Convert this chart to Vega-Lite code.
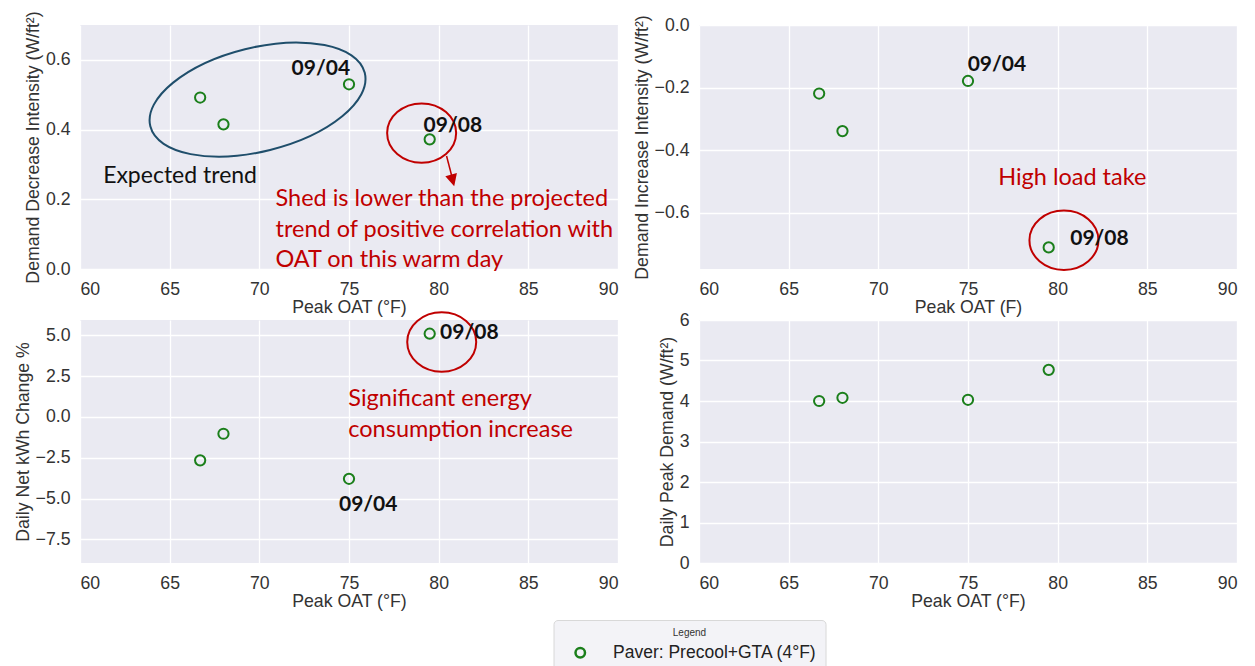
{
  "$schema": "https://vega.github.io/schema/vega-lite/v6.json",
  "padding": {"left": 14, "top": 10, "right": 5, "bottom": 5},
  "bounds": "flush",
  "columns": 2,
  "spacing": {"row": 51, "column": 81},
  "datasets": {
    "pts": [
      {"oat": 66.7, "dec": 0.492, "inc": -0.219, "net": -2.66, "peak": 4.0, "series": "Paver: Precool+GTA (4°F)"},
      {"oat": 68.0, "dec": 0.415, "inc": -0.339, "net": -1.03, "peak": 4.08, "series": "Paver: Precool+GTA (4°F)"},
      {"oat": 75.0, "dec": 0.530, "inc": -0.179, "net": -3.79, "peak": 4.03, "series": "Paver: Precool+GTA (4°F)"},
      {"oat": 79.5, "dec": 0.372, "inc": -0.711, "net": 5.1, "peak": 4.77, "series": "Paver: Precool+GTA (4°F)"}
    ],
    "dates": [
      {"panel": "dec", "x": 71.8, "y": 0.575, "label": "09/04"},
      {"panel": "dec", "x": 79.16, "y": 0.411, "label": "09/08"},
      {"panel": "inc", "x": 74.98, "y": -0.127, "label": "09/04"},
      {"panel": "inc", "x": 80.7, "y": -0.685, "label": "09/08"},
      {"panel": "net", "x": 80.08, "y": 5.14, "label": "09/08"},
      {"panel": "net", "x": 74.44, "y": -5.38, "label": "09/04"}
    ],
    "red": [
      {"panel": "dec", "x": 70.9, "y": 0.200, "label": "Shed is lower than the projected"},
      {"panel": "dec", "x": 70.9, "y": 0.113, "label": "trend of positive correlation with"},
      {"panel": "dec", "x": 70.9, "y": 0.027, "label": "OAT on this warm day"},
      {"panel": "inc", "x": 76.68, "y": -0.490, "label": "High load take"},
      {"panel": "net", "x": 74.96, "y": 1.12, "label": "Significant energy"},
      {"panel": "net", "x": 74.96, "y": -0.77, "label": "consumption increase"}
    ],
    "rings": [
      {"panel": "dec", "x": 79.05, "y": 0.390},
      {"panel": "inc", "x": 80.35, "y": -0.688},
      {"panel": "net", "x": 80.17, "y": 4.59}
    ],
    "ellipse": [{"x": 69.9, "y": 0.486}],
    "arrow": [{"x": 80.44, "y": 0.324, "x2": 80.72, "y2": 0.269}],
    "arrowhead": [{"x": 80.78, "y": 0.254}],
    "expected": [{"x": 61.29, "y": 0.268, "label": "Expected trend"}]
  },
  "concat": [
    {
      "width": 538,
      "height": 244,
      "layer": [
        {
          "data": {"name": "pts"},
          "mark": {"type": "point", "filled": false, "size": 105, "strokeWidth": 2, "opacity": 1},
          "encoding": {
            "x": {"field": "oat", "type": "quantitative", "scale": {"domain": [60, 90], "nice": false, "zero": false}, "axis": {"values": [60, 65, 70, 75, 80, 85, 90], "format": "d", "title": "Peak OAT (°F)"}},
            "y": {"field": "dec", "type": "quantitative", "scale": {"domain": [0, 0.7], "nice": false, "zero": false}, "axis": {"values": [0, 0.2, 0.4, 0.6], "format": ".1f", "title": "Demand Decrease Intensity (W/ft²)"}},
            "color": {"field": "series", "type": "nominal", "scale": {"range": ["#1b7f1b"]},
              "legend": {"orient": "none", "legendX": 473.5, "legendY": 595, "title": "Legend", "titleFont": "Liberation Sans", "titleFontSize": 10, "titleFontWeight": "normal", "titleColor": "#333333", "titleAnchor": "middle", "titlePadding": 6, "labelFont": "Liberation Sans", "labelFontSize": 17.5, "labelColor": "#222222", "labelLimit": 0, "fillColor": "#F3F3F7", "strokeColor": "#D8D8D8", "cornerRadius": 4, "padding": 8, "symbolSize": 90, "symbolStrokeWidth": 2.5, "symbolOffset": 10, "labelOffset": 24}}
          }
        },
        {
          "data": {"name": "ellipse"},
          "mark": {"type": "point", "shape": "M -1 0 A 1 0.47 0 1 0 1 0 A 1 0.47 0 1 0 -1 0 Z", "size": 48841, "angle": 346, "filled": false, "stroke": "#1f4e6b", "strokeWidth": 2, "opacity": 1},
          "encoding": {"x": {"field": "x", "type": "quantitative"}, "y": {"field": "y", "type": "quantitative"}}
        },
        {
          "data": {"name": "rings"},
          "transform": [{"filter": "datum.panel === 'dec'"}],
          "mark": {"type": "point", "shape": "M -1 0 A 1 0.86 0 1 0 1 0 A 1 0.86 0 1 0 -1 0 Z", "size": 4761, "filled": false, "stroke": "#C00000", "strokeWidth": 2, "opacity": 1},
          "encoding": {"x": {"field": "x", "type": "quantitative"}, "y": {"field": "y", "type": "quantitative"}}
        },
        {
          "data": {"name": "arrow"},
          "mark": {"type": "rule", "color": "#C00000", "strokeWidth": 1.5},
          "encoding": {"x": {"field": "x", "type": "quantitative"}, "y": {"field": "y", "type": "quantitative"}, "x2": {"field": "x2"}, "y2": {"field": "y2"}}
        },
        {
          "data": {"name": "arrowhead"},
          "mark": {"type": "point", "shape": "M -1 -1 L 1 -1 L 0 1 Z", "size": 144, "angle": 345, "filled": true, "fill": "#C00000", "strokeWidth": 0, "opacity": 1},
          "encoding": {"x": {"field": "x", "type": "quantitative"}, "y": {"field": "y", "type": "quantitative"}}
        },
        {
          "data": {"name": "dates"},
          "transform": [{"filter": "datum.panel === 'dec'"}],
          "mark": {"type": "text", "font": "Lato", "fontWeight": "bold", "fontSize": 21, "color": "#111111", "align": "left", "baseline": "middle"},
          "encoding": {"x": {"field": "x", "type": "quantitative"}, "y": {"field": "y", "type": "quantitative"}, "text": {"field": "label"}}
        },
        {
          "data": {"name": "red"},
          "transform": [{"filter": "datum.panel === 'dec'"}],
          "mark": {"type": "text", "font": "Lato", "fontSize": 23.5, "color": "#C00000", "align": "left", "baseline": "middle"},
          "encoding": {"x": {"field": "x", "type": "quantitative"}, "y": {"field": "y", "type": "quantitative"}, "text": {"field": "label"}}
        },
        {
          "data": {"name": "expected"},
          "mark": {"type": "text", "font": "Lato", "fontSize": 23, "color": "#111111", "align": "left", "baseline": "middle"},
          "encoding": {"x": {"field": "x", "type": "quantitative"}, "y": {"field": "y", "type": "quantitative"}, "text": {"field": "label"}}
        }
      ]
    },
    {
      "width": 538,
      "height": 244,
      "layer": [
        {
          "data": {"name": "pts"},
          "mark": {"type": "point", "filled": false, "size": 105, "strokeWidth": 2, "opacity": 1},
          "encoding": {
            "x": {"field": "oat", "type": "quantitative", "scale": {"domain": [60, 90], "nice": false, "zero": false}, "axis": {"values": [60, 65, 70, 75, 80, 85, 90], "format": "d", "title": "Peak OAT (F)"}},
            "y": {"field": "inc", "type": "quantitative", "scale": {"domain": [-0.78, 0], "nice": false, "zero": false}, "axis": {"values": [0, -0.2, -0.4, -0.6], "format": ".1f", "title": "Demand Increase Intensity (W/ft²)"}},
            "color": {"field": "series", "type": "nominal"}
          }
        },
        {
          "data": {"name": "rings"},
          "transform": [{"filter": "datum.panel === 'inc'"}],
          "mark": {"type": "point", "shape": "M -1 0 A 1 0.86 0 1 0 1 0 A 1 0.86 0 1 0 -1 0 Z", "size": 4761, "filled": false, "stroke": "#C00000", "strokeWidth": 2, "opacity": 1},
          "encoding": {"x": {"field": "x", "type": "quantitative"}, "y": {"field": "y", "type": "quantitative"}}
        },
        {
          "data": {"name": "dates"},
          "transform": [{"filter": "datum.panel === 'inc'"}],
          "mark": {"type": "text", "font": "Lato", "fontWeight": "bold", "fontSize": 21, "color": "#111111", "align": "left", "baseline": "middle"},
          "encoding": {"x": {"field": "x", "type": "quantitative"}, "y": {"field": "y", "type": "quantitative"}, "text": {"field": "label"}}
        },
        {
          "data": {"name": "red"},
          "transform": [{"filter": "datum.panel === 'inc'"}],
          "mark": {"type": "text", "font": "Lato", "fontSize": 23.5, "color": "#C00000", "align": "left", "baseline": "middle"},
          "encoding": {"x": {"field": "x", "type": "quantitative"}, "y": {"field": "y", "type": "quantitative"}, "text": {"field": "label"}}
        }
      ]
    },
    {
      "width": 538,
      "height": 243,
      "layer": [
        {
          "data": {"name": "pts"},
          "mark": {"type": "point", "filled": false, "size": 105, "strokeWidth": 2, "opacity": 1},
          "encoding": {
            "x": {"field": "oat", "type": "quantitative", "scale": {"domain": [60, 90], "nice": false, "zero": false}, "axis": {"values": [60, 65, 70, 75, 80, 85, 90], "format": "d", "title": "Peak OAT (°F)"}},
            "y": {"field": "net", "type": "quantitative", "scale": {"domain": [-8.95, 5.94], "nice": false, "zero": false}, "axis": {"values": [5, 2.5, 0, -2.5, -5, -7.5], "format": ".1f", "title": "Daily Net kWh Change %"}},
            "color": {"field": "series", "type": "nominal"}
          }
        },
        {
          "data": {"name": "rings"},
          "transform": [{"filter": "datum.panel === 'net'"}],
          "mark": {"type": "point", "shape": "M -1 0 A 1 0.86 0 1 0 1 0 A 1 0.86 0 1 0 -1 0 Z", "size": 4761, "filled": false, "stroke": "#C00000", "strokeWidth": 2, "opacity": 1},
          "encoding": {"x": {"field": "x", "type": "quantitative"}, "y": {"field": "y", "type": "quantitative"}}
        },
        {
          "data": {"name": "dates"},
          "transform": [{"filter": "datum.panel === 'net'"}],
          "mark": {"type": "text", "font": "Lato", "fontWeight": "bold", "fontSize": 21, "color": "#111111", "align": "left", "baseline": "middle"},
          "encoding": {"x": {"field": "x", "type": "quantitative"}, "y": {"field": "y", "type": "quantitative"}, "text": {"field": "label"}}
        },
        {
          "data": {"name": "red"},
          "transform": [{"filter": "datum.panel === 'net'"}],
          "mark": {"type": "text", "font": "Lato", "fontSize": 23.5, "color": "#C00000", "align": "left", "baseline": "middle"},
          "encoding": {"x": {"field": "x", "type": "quantitative"}, "y": {"field": "y", "type": "quantitative"}, "text": {"field": "label"}}
        }
      ]
    },
    {
      "width": 538,
      "height": 243,
      "layer": [
        {
          "data": {"name": "pts"},
          "mark": {"type": "point", "filled": false, "size": 105, "strokeWidth": 2, "opacity": 1},
          "encoding": {
            "x": {"field": "oat", "type": "quantitative", "scale": {"domain": [60, 90], "nice": false, "zero": false}, "axis": {"values": [60, 65, 70, 75, 80, 85, 90], "format": "d", "title": "Peak OAT (°F)"}},
            "y": {"field": "peak", "type": "quantitative", "scale": {"domain": [0, 6], "nice": false, "zero": false}, "axis": {"values": [0, 1, 2, 3, 4, 5, 6], "format": "d", "title": "Daily Peak Demand (W/ft²)"}},
            "color": {"field": "series", "type": "nominal"}
          }
        }
      ]
    }
  ],
  "resolve": {
    "scale": {"x": "independent", "y": "independent", "color": "shared"},
    "axis": {"x": "independent", "y": "independent"},
    "legend": {"color": "shared"}
  },
  "config": {
    "view": {"fill": "#EAEAF2", "stroke": null},
    "axis": {
      "domain": false, "ticks": false, "grid": true, "gridColor": "#FFFFFF", "gridWidth": 1.3,
      "labelFont": "Liberation Sans", "labelFontSize": 17.7, "labelColor": "#333333",
      "titleFont": "Liberation Sans", "titleFontSize": 17.7, "titleFontWeight": "normal", "titleColor": "#333333"
    },
    "axisX": {"labelPadding": 11, "titlePadding": 1},
    "axisY": {"labelPadding": 10, "titlePadding": 3}
  }
}
